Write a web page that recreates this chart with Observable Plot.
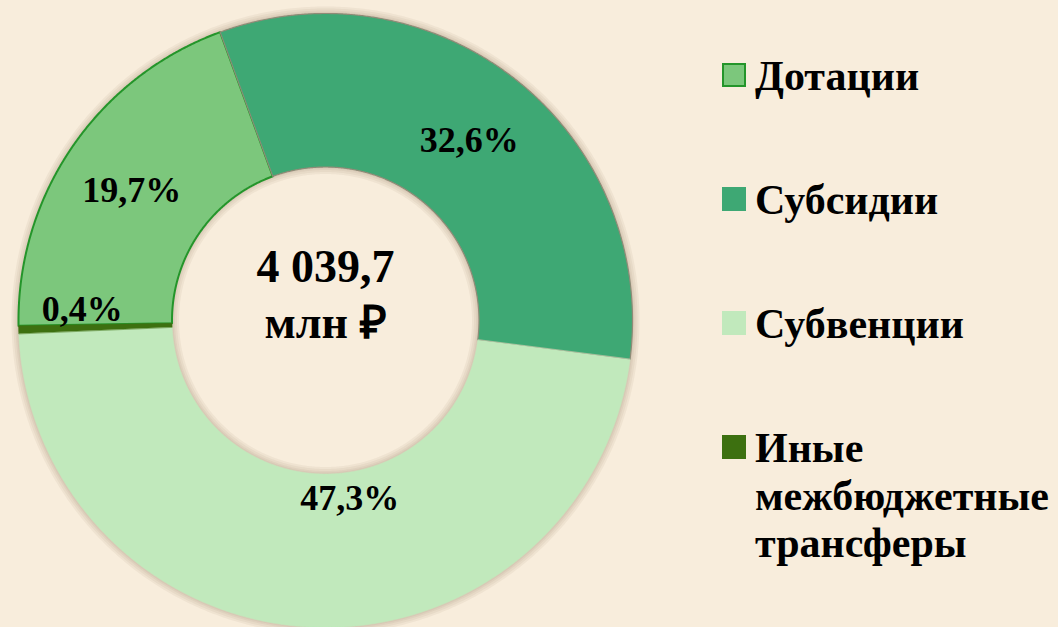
<!DOCTYPE html>
<html>
<head>
<meta charset="utf-8">
<script src="https://cdn.jsdelivr.net/npm/d3@7"></script>
<script src="https://cdn.jsdelivr.net/npm/@observablehq/plot@0.6"></script>
<style>
  html, body { margin: 0; padding: 0; background: #f8eddc; }
  #wrap { position: relative; width: 1058px; height: 627px; overflow: hidden; background: #f8eddc; }
  #legend { position: absolute; left: 0; top: 0; }
  .item { position: absolute; left: 722px; font-family: "Liberation Serif", "Times New Roman", serif; font-weight: bold; font-size: 42px; line-height: 47.5px; color: #000; white-space: nowrap; }
  .sw { position: absolute; left: 0; top: 10px; width: 24px; height: 24px; box-sizing: border-box; }
  .txt { position: absolute; left: 33px; top: 0; }
</style>
</head>
<body>
<div id="wrap"><div id="chart"></div><div id="legend"></div></div>
<script>
// ---- data ----
const names = ["Дотации", "Субсидии", "Субвенции", "Иные межбюджетные трансферы"];
const legendLines = [["Дотации"], ["Субсидии"], ["Субвенции"], ["Иные", "межбюджетные", "трансферы"]];
const shares = [19.7, 32.6, 47.3, 0.4];
const shareLabels = ["19,7%", "32,6%", "47,3%", "0,4%"];
const colors = ["#7cc77c", "#3ea874", "#c1e9bc", "#3d7010"];
const totalLabel = "4 039,7";
const unitLabel = "млн ₽";

// ---- layout ----
const W = 1058, H = 627;
const cx = 325, cy = 320, Rpx = 307;   // pixel centre and outer radius
const inner = 0.5;                        // inner radius relative to outer
const startDeg = -91;

const rows = names.map((name, i) => ({name, share: shares[i], label: shareLabels[i]}));
const pie = d3.pie().sort(null).value(d => d.share)
  .startAngle(startDeg * Math.PI / 180)
  .endAngle((startDeg + 360) * Math.PI / 180);
const arcs = pie(rows);

// polygon points for each slice (clockwise from 12 o'clock)
const pts = [];
const step = 0.25 * Math.PI / 180;
for (const a of arcs) {
  const n = Math.max(2, Math.ceil((a.endAngle - a.startAngle) / step));
  for (let k = 0; k <= n; k++) {
    const t = a.startAngle + (a.endAngle - a.startAngle) * k / n;
    pts.push({name: a.data.name, x: Math.sin(t), y: Math.cos(t)});
  }
  for (let k = n; k >= 0; k--) {
    const t = a.startAngle + (a.endAngle - a.startAngle) * k / n;
    pts.push({name: a.data.name, x: inner * Math.sin(t), y: inner * Math.cos(t)});
  }
}
// rims used for the soft shadow around the ring
const rim = [];
for (let k = 0; k <= 720; k++) {
  const t = k / 720 * 2 * Math.PI;
  rim.push({ring: "outer", x: Math.sin(t), y: Math.cos(t)});
  rim.push({ring: "inner", x: inner * Math.sin(t), y: inner * Math.cos(t)});
}
const mid = (1 + inner) / 2;
const labelRows = arcs.map(a => {
  const t = (a.startAngle + a.endAngle) / 2;
  return {name: a.data.name, label: a.data.label, x: mid * Math.sin(t), y: mid * Math.cos(t)};
});
const labelOffsets = {"Дотации": [-4, 0], "Субсидии": [0, 0], "Субвенции": [34, -52], "Иные межбюджетные трансферы": [-13, -18]};
const strokes = {"Дотации": ["#24952a", 2], "Субсидии": ["#8f8b77", 1.2]};

const font = "'Liberation Serif', 'Times New Roman', serif";
const shadowMarks = [14, 10, 6, 3].map(w => Plot.line(rim, {
  x: "x", y: "y", z: "ring", curve: "linear-closed", stroke: "#7a6040", strokeOpacity: 0.07, strokeWidth: w
}));
const sliceMarks = names.map((n, i) => Plot.line(pts.filter(d => d.name === n), {
  x: "x", y: "y", curve: "linear-closed", fill: colors[i],
  stroke: strokes[n] ? strokes[n][0] : colors[i], strokeWidth: strokes[n] ? strokes[n][1] : 0.5
}));
const textMarks = labelRows.map(r => Plot.text([r], {
  x: "x", y: "y", text: "label",
  dx: labelOffsets[r.name][0], dy: labelOffsets[r.name][1],
  fontSize: 36, fontWeight: "bold", fontFamily: font, fill: "#000", lineAnchor: "middle"
}));

const chart = Plot.plot({
  width: W, height: H,
  margin: 0,
  style: {background: "transparent", overflow: "visible"},
  x: {domain: [-cx / Rpx, (W - cx) / Rpx], range: [0, W], axis: null},
  y: {domain: [-(H - cy) / Rpx, cy / Rpx], range: [H, 0], axis: null},
  marks: [
    ...shadowMarks,
    ...sliceMarks,
    ...textMarks,
    Plot.text([{x: 0, y: 0, t: totalLabel}], {x: "x", y: "y", text: "t", dy: -53, fontSize: 46, fontWeight: "bold", fontFamily: font, fill: "#000", lineAnchor: "middle"}),
    Plot.text([{x: 0, y: 0, t: unitLabel}], {x: "x", y: "y", text: "t", dy: 3, fontSize: 46, fontWeight: "bold", fontFamily: font, fill: "#000", lineAnchor: "middle"})
  ]
});
document.getElementById("chart").appendChild(chart);

// ---- legend ----
const tops = [53, 177, 301, 425];
const leg = document.getElementById("legend");
names.forEach((n, i) => {
  const item = document.createElement("div");
  item.className = "item";
  item.style.top = tops[i] + "px";
  const sw = document.createElement("div");
  sw.className = "sw";
  sw.style.background = colors[i];
  if (i === 0) sw.style.border = "2px solid #24952a";
  const tx = document.createElement("div");
  tx.className = "txt";
  tx.innerHTML = legendLines[i].join("<br>");
  item.appendChild(sw);
  item.appendChild(tx);
  leg.appendChild(item);
});
</script>
</body>
</html>
